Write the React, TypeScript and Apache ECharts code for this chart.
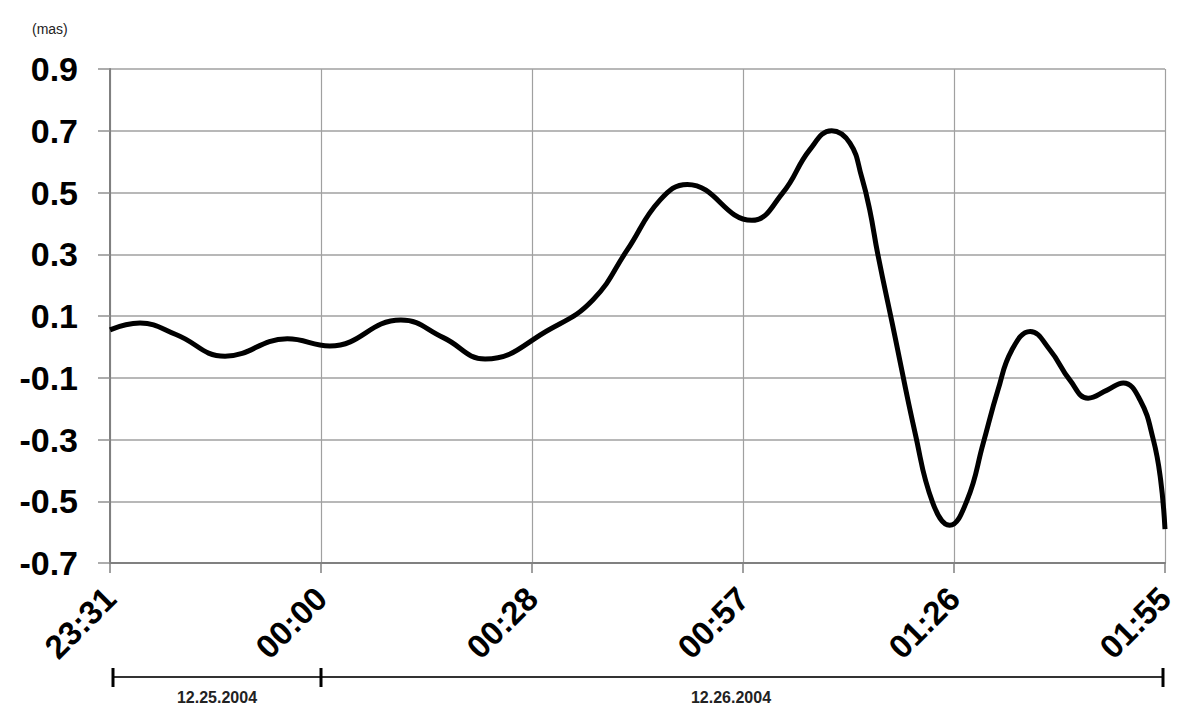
import React, { useEffect, useRef } from "react";
import * as echarts from "echarts";

// minutes since 23:31 (12.25.2004)
const minutes = [0, 4.1, 9, 15.7, 24.2, 30, 39.7, 45.5, 51.2, 60.1, 65.9, 70.6, 75.1, 78.8, 87.6, 91.8, 95.5, 98.5, 101.0, 102.6, 103.7, 104.8, 107.0, 109.9, 112.3, 114.6, 117.0, 119.2, 121.2, 123.1, 125.6, 128.3, 131.0, 133.5, 136.1, 138.3, 140.6, 142.4, 143.4, 144];
const values = [0.055, 0.077, 0.04, -0.03, 0.026, 0.003, 0.087, 0.03, -0.039, 0.058, 0.152, 0.314, 0.476, 0.526, 0.41, 0.498, 0.638, 0.70, 0.66, 0.55, 0.443, 0.30, 0.05, -0.28, -0.505, -0.578, -0.496, -0.311, -0.14, -0.01, 0.05, -0.01, -0.107, -0.166, -0.14, -0.117, -0.172, -0.30, -0.43, -0.59];

const xTickValues = [0, 28.8, 57.6, 86.4, 115.2, 144];
const xTickLabels = ["23:31", "00:00", "00:28", "00:57", "01:26", "01:55"];
const yTickValues = [-0.7, -0.5, -0.3, -0.1, 0.1, 0.3, 0.5, 0.7, 0.9];
const dateLabels = ["12.25.2004", "12.26.2004"];
const unitLabel = "(mas)";

const FONT = "'Liberation Sans', Arial, sans-serif";

export default function App() {
  const ref = useRef<HTMLDivElement>(null);
  useEffect(() => {
    if (!ref.current) return;
    const chart = echarts.init(ref.current, null, { renderer: "svg" });
    const data = minutes.map((m, i) => [m, values[i]]);
    chart.setOption({
      animation: false,
      backgroundColor: "#ffffff",
      grid: { left: 110, right: 16, top: 69, bottom: 153, containLabel: false },
      xAxis: {
        type: "value",
        min: 0,
        max: 144,
        axisLine: { show: true, onZero: false, lineStyle: { color: "#808080", width: 2 } },
        axisTick: { show: true, length: 10, customValues: xTickValues, lineStyle: { color: "#808080", width: 1.5 } },
        axisLabel: {
          customValues: xTickValues,
          rotate: 45,
          margin: 30,
          fontSize: 33,
          fontWeight: "bold",
          fontFamily: FONT,
          color: "#000",
          formatter: (v: number) => {
            const idx = xTickValues.findIndex((t) => Math.abs(t - v) < 0.01);
            return idx >= 0 ? xTickLabels[idx] : "";
          },
        },
        splitLine: { show: true, lineStyle: { color: "#a0a0a0", width: 1.2 } },
      },
      yAxis: {
        type: "value",
        min: -0.7,
        max: 0.9,
        axisLine: { show: true, lineStyle: { color: "#808080", width: 2 } },
        axisTick: { show: true, length: 12, customValues: yTickValues, lineStyle: { color: "#909090", width: 1.5 } },
        axisLabel: {
          customValues: yTickValues,
          margin: 32,
          fontSize: 34,
          fontWeight: "bold",
          fontFamily: FONT,
          color: "#000",
          formatter: (v: number) => v.toFixed(1),
        },
        splitLine: { show: true, lineStyle: { color: "#a0a0a0", width: 1.5 } },
      },
      series: [
        {
          type: "line",
          data,
          smooth: 0.45,
          symbol: "none",
          lineStyle: { color: "#000", width: 5 },
          clip: false,
        },
      ],
      graphic: [
        { type: "text", left: 32, top: 22, style: { text: unitLabel, fontSize: 14, fontFamily: FONT, fill: "#222" } },
        { type: "line", shape: { x1: 112, y1: 677, x2: 1163, y2: 677 }, style: { stroke: "#333", lineWidth: 2 } },
        { type: "line", shape: { x1: 113, y1: 668, x2: 113, y2: 687 }, style: { stroke: "#000", lineWidth: 3 } },
        { type: "line", shape: { x1: 321, y1: 668, x2: 321, y2: 687 }, style: { stroke: "#000", lineWidth: 3 } },
        { type: "line", shape: { x1: 1163, y1: 668, x2: 1163, y2: 687 }, style: { stroke: "#000", lineWidth: 3 } },
        { type: "text", x: 217, y: 697, style: { text: dateLabels[0], fontSize: 16, fontWeight: "bold", fontFamily: FONT, fill: "#222", align: "center", verticalAlign: "middle" } },
        { type: "text", x: 731, y: 697, style: { text: dateLabels[1], fontSize: 16, fontWeight: "bold", fontFamily: FONT, fill: "#222", align: "center", verticalAlign: "middle" } },
      ],
    });
    return () => chart.dispose();
  }, []);
  return <div ref={ref} style={{ position: "absolute", left: 0, top: 0, width: 1181, height: 716 }} />;
}
